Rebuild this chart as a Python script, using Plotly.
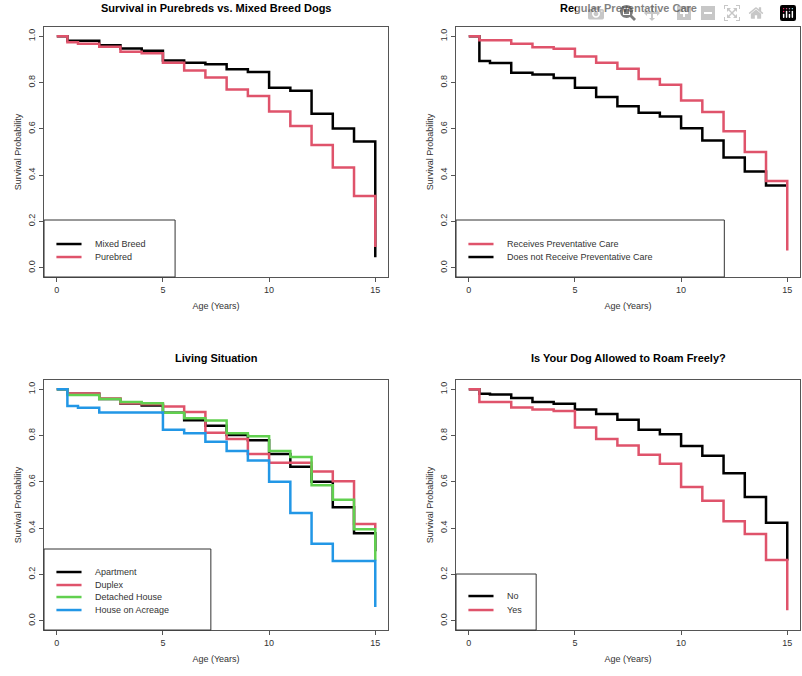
import plotly.graph_objects as go

# step times (years) shared by all curves
times = [0, 0.5, 1, 2, 3, 4, 5, 6, 7, 8, 9, 10, 11, 12, 13, 14, 15]

# Panel 1: purebred vs mixed
mixed = [1.0, 0.981, 0.981, 0.961, 0.947, 0.937, 0.895, 0.886, 0.879, 0.857, 0.846, 0.778, 0.765, 0.665, 0.602, 0.545, 0.045]
purebred = [1.0, 0.974, 0.968, 0.955, 0.933, 0.926, 0.886, 0.852, 0.822, 0.77, 0.742, 0.675, 0.612, 0.53, 0.433, 0.31, 0.09]

# Panel 2: preventative care
care_yes = [1.0, 0.983, 0.983, 0.968, 0.952, 0.946, 0.912, 0.885, 0.86, 0.815, 0.79, 0.722, 0.673, 0.59, 0.5, 0.375, 0.075]
care_no = [1.0, 0.893, 0.884, 0.842, 0.835, 0.82, 0.777, 0.738, 0.698, 0.67, 0.653, 0.603, 0.55, 0.476, 0.416, 0.355, 0.355]

# Panel 3: living situation
apartment = [1.0, 0.98, 0.98, 0.958, 0.938, 0.93, 0.898, 0.866, 0.842, 0.802, 0.78, 0.72, 0.665, 0.6, 0.49, 0.378, 0.3]
duplex = [1.0, 0.982, 0.982, 0.96, 0.94, 0.935, 0.925, 0.902, 0.812, 0.785, 0.72, 0.683, 0.683, 0.645, 0.603, 0.418, 0.4]
detached = [1.0, 0.975, 0.975, 0.958, 0.945, 0.94, 0.898, 0.875, 0.865, 0.81, 0.797, 0.733, 0.707, 0.585, 0.523, 0.395, 0.26]
acreage = [1.0, 0.928, 0.92, 0.9, 0.9, 0.9, 0.825, 0.81, 0.773, 0.733, 0.692, 0.6, 0.465, 0.333, 0.258, 0.258, 0.06]

# Panel 4: roam freely
roam_no = [1.0, 0.98, 0.977, 0.962, 0.945, 0.937, 0.912, 0.893, 0.868, 0.825, 0.806, 0.755, 0.713, 0.637, 0.535, 0.423, 0.26]
roam_yes = [1.0, 0.945, 0.945, 0.921, 0.912, 0.906, 0.835, 0.785, 0.757, 0.717, 0.678, 0.578, 0.518, 0.43, 0.375, 0.262, 0.045]

BLACK, RED, GREEN, BLUE = "#000000", "#DF536B", "#61D04F", "#2297E6"

panels = [
    dict(title="Survival in Purebreds vs. Mixed Breed Dogs",
         series=[("Mixed Breed", mixed, BLACK), ("Purebred", purebred, RED)],
         draw=[0, 1], box=(0.381, 0.228), rows=[0.132, 0.08],
         dx=[0.0549, 0.4838], dy=[0.5902, 0.9601], ty=8),
    dict(title="Regular Preventative Care",
         series=[("Receives Preventative Care", care_yes, RED), ("Does not Receive Preventative Care", care_no, BLACK)],
         draw=[1, 0], box=(0.78, 0.228), rows=[0.132, 0.08],
         dx=[0.5686, 0.9975], dy=[0.5902, 0.9601], ty=8),
    dict(title="Living Situation",
         series=[("Apartment", apartment, BLACK), ("Duplex", duplex, RED),
                 ("Detached House", detached, GREEN), ("House on Acreage", acreage, BLUE)],
         draw=[0, 1, 2, 3], box=(0.485, 0.324), rows=[0.232, 0.18, 0.132, 0.08],
         dx=[0.0549, 0.4838], dy=[0.068, 0.4379], ty=358),
    dict(title="Is Your Dog Allowed to Roam Freely?",
         series=[("No", roam_no, BLACK), ("Yes", roam_yes, RED)],
         draw=[0, 1], box=(0.233, 0.224), rows=[0.136, 0.08],
         dx=[0.5686, 0.9975], dy=[0.068, 0.4379], ty=358),
]

fig = go.Figure()
shapes, annotations = [], []
font = dict(family="Liberation Sans, Arial", size=9, color="#333")

for i, p in enumerate(panels, start=1):
    sfx = "" if i == 1 else str(i)
    xa, ya = "x" + sfx, "y" + sfx
    for k in p["draw"]:
        name, vals, col = p["series"][k]
        fig.add_trace(go.Scatter(x=times, y=vals, mode="lines", line=dict(color=col, width=2.5, shape="hv"),
                                 xaxis=xa, yaxis=ya, showlegend=False, name=name))
    axis = dict(showline=True, mirror=True, linecolor="#555", linewidth=1, ticks="outside",
                ticklen=4, tickcolor="#555", showgrid=False, zeroline=False, tickfont=font)
    fig.update_layout(**{
        "xaxis" + sfx: dict(axis, domain=p["dx"], range=[-0.6, 15.6], tickvals=[0, 5, 10, 15],
                            anchor=ya, title=dict(text="Age (Years)", font=font, standoff=8)),
        "yaxis" + sfx: dict(axis, domain=p["dy"], range=[-0.04, 1.04], tickvals=[0, 0.2, 0.4, 0.6, 0.8, 1.0],
                            tickformat=".1f", tickangle=-90, anchor=xa,
                            title=dict(text="Survival Probability", font=font, standoff=4)),
    })
    xd, yd = xa + " domain", ya + " domain"
    shapes.append(dict(type="rect", xref=xd, yref=yd, x0=0, y0=0, x1=p["box"][0], y1=p["box"][1],
                       line=dict(color="#333", width=1)))
    for (name, vals, col), ry in zip(p["series"], p["rows"]):
        shapes.append(dict(type="line", xref=xd, yref=yd, x0=0.036, x1=0.109, y0=ry, y1=ry,
                           line=dict(color=col, width=2.5)))
        annotations.append(dict(text=name, xref=xd, yref=yd, x=0.143, y=ry, xanchor="left",
                                yanchor="middle", showarrow=False, font=font))
    annotations.append(dict(text="<b>" + p["title"] + "</b>", xref="paper", yref="paper",
                            x=(p["dx"][0] + p["dx"][1]) / 2, y=1 - p["ty"] / 676, xanchor="center",
                            yanchor="middle", showarrow=False,
                            font=dict(family="Liberation Sans, Arial", size=11, color="#000")))

fig.update_layout(width=802, height=676, margin=dict(l=0, r=0, t=0, b=0),
                  plot_bgcolor="white", paper_bgcolor="white",
                  shapes=shapes, annotations=annotations)

fig.write_html("out.html", post_script="document.body.style.margin='0';document.body.style.overflow='hidden';")
